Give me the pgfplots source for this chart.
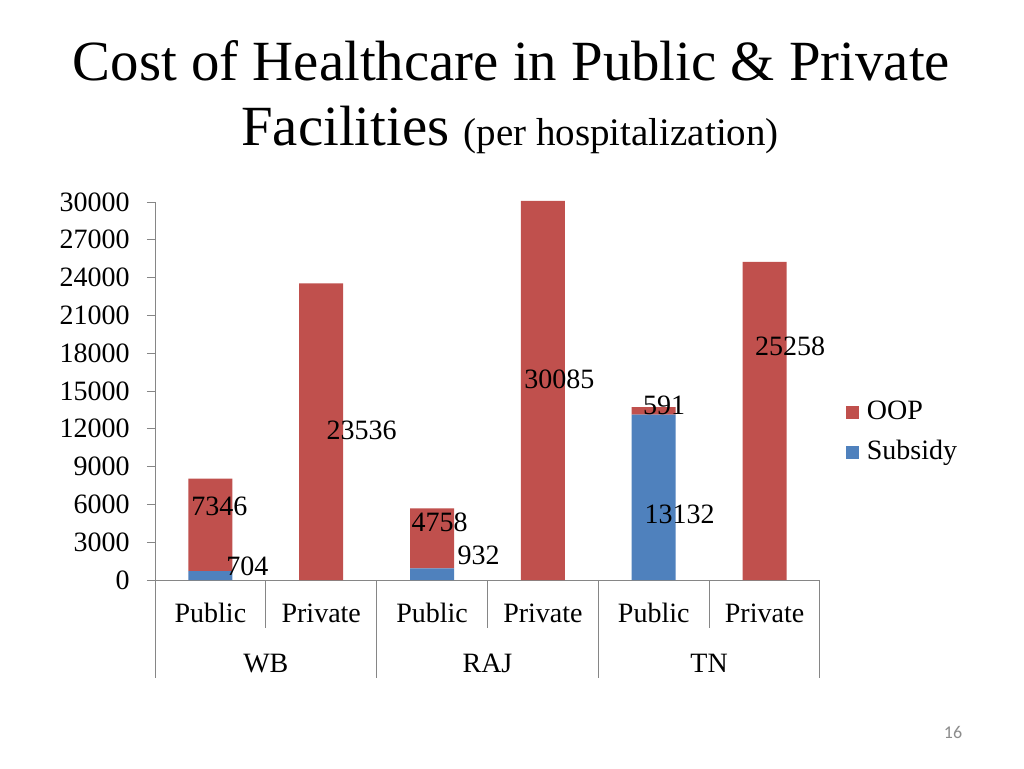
\documentclass[border=0pt]{standalone}
\usepackage{fontspec}
\setmainfont{Liberation Serif}
\newfontfamily\calibri{Carlito}
\usepackage{pgfplots}
\usepackage{pgfplotstable}
\pgfplotsset{compat=1.18}

\definecolor{oop}{RGB}{192,80,77}
\definecolor{subsidy}{RGB}{79,129,189}
\definecolor{axisgray}{RGB}{134,134,134}
\definecolor{pagegray}{RGB}{140,140,140}

% x: 0..5 = WB Public, WB Private, RAJ Public, RAJ Private, TN Public, TN Private
% dx, dy: where the data label sits, relative to the middle of its segment (pt)
\pgfplotstableread{
x y dx dy lab
0 704 18.5 4.8 704
1 0 0 0 {}
2 932 23.25 9.55 932
3 0 0 0 {}
4 13132 13 -8.35 13132
5 0 0 0 {}
}\subsidydata

\pgfplotstableread{
x y dx dy lab
0 7346 4.5 9.45 7346
1 23536 20.25 0.85 23536
2 4758 3.75 8.15 4758
3 30085 8.25 5.75 30085
4 591 5.25 2.9 591
5 25258 12.75 37.45 25258
}\oopdata

\newcommand\chartfont{\fontsize{14pt}{16pt}\selectfont}

\begin{document}
\begin{tikzpicture}
\fill[white] (0,0) rectangle (512pt,384pt);
\path[use as bounding box] (0,0) rectangle (512pt,384pt);

\node[anchor=base, inner sep=0pt, font=\fontsize{28.4pt}{32pt}\selectfont]
  at (255.75pt,344pt) {Cost of Healthcare in Public \& Private};
\node[anchor=base, inner sep=0pt]
  at (255pt,311.5pt) {\fontsize{28.4pt}{32pt}\selectfont Facilities \fontsize{19.5pt}{22pt}\selectfont(per hospitalization)};

\begin{axis}[
    at={(77.5pt,94pt)}, anchor=south west,
    scale only axis,
    width=332.5pt, height=189pt,
    ybar stacked,
    bar width=22pt,
    clip=false,
    xmin=-0.5, xmax=5.5,
    ymin=0, ymax=30000,
    axis lines=left,
    axis line style={draw=axisgray, line width=0.5pt, -},
    xtick={0,...,5},
    xticklabels={Public,Private,Public,Private,Public,Private},
    ytick distance=3000,
    tick align=outside,
    major tick length=4pt,
    xtick style={draw=none},
    ytick style={draw=axisgray, line width=0.5pt},
    scaled y ticks=false,
    /pgf/number format/assume math mode=true,
    /pgf/number format/1000 sep={},
    tick label style={font=\chartfont},
    yticklabel style={inner sep=0pt, xshift=-8.5pt},
    xticklabel style={anchor=base, inner sep=0pt, yshift=-17pt},
    point meta=explicit symbolic,
    visualization depends on={\thisrow{dx} \as \lx},
    visualization depends on={\thisrow{dy} \as \ly},
    nodes near coords,
    every node near coord/.append style={anchor=center, inner sep=0pt,
        font=\chartfont, text=black, xshift=\lx pt, yshift=\ly pt},
    reverse legend,
    legend image code/.code={\fill[#1] (0pt,-3.25pt) rectangle (6.5pt,3.25pt);},
    legend style={draw=none, fill=none, font=\chartfont,
        at={(1.039,0.389)}, anchor=west, inner sep=0pt,
        row sep=7pt, column sep=3.75pt,
        nodes={inner sep=0pt, text height=10pt, text depth=3pt},
        cells={anchor=west}},
]
\addplot[fill=subsidy, draw=none] table[x=x, y=y, meta=lab] {\subsidydata};
\addplot[fill=oop, draw=none] table[x=x, y=y, meta=lab] {\oopdata};
\legend{Subsidy, OOP}

% category frame below the axis
\draw[axisgray, line width=0.5pt] (axis cs:-0.5,0) -- ++(0pt,-49pt);
\draw[axisgray, line width=0.5pt] (axis cs:1.5,0) -- ++(0pt,-49pt);
\draw[axisgray, line width=0.5pt] (axis cs:3.5,0) -- ++(0pt,-49pt);
\draw[axisgray, line width=0.5pt] (axis cs:5.5,0) -- ++(0pt,-49pt);
\draw[axisgray, line width=0.5pt] (axis cs:0.5,0) -- ++(0pt,-24pt);
\draw[axisgray, line width=0.5pt] (axis cs:2.5,0) -- ++(0pt,-24pt);
\draw[axisgray, line width=0.5pt] (axis cs:4.5,0) -- ++(0pt,-24pt);
\node[anchor=base, inner sep=0pt, font=\chartfont] at ([yshift=-46pt]axis cs:0.5,0) {WB};
\node[anchor=base, inner sep=0pt, font=\chartfont] at ([yshift=-46pt]axis cs:2.5,0) {RAJ};
\node[anchor=base, inner sep=0pt, font=\chartfont] at ([yshift=-46pt]axis cs:4.5,0) {TN};
\end{axis}

\node[font=\calibri\fontsize{9pt}{10pt}\selectfont, text=pagegray] at (476.5pt,17.75pt) {16};
\end{tikzpicture}
\end{document}
